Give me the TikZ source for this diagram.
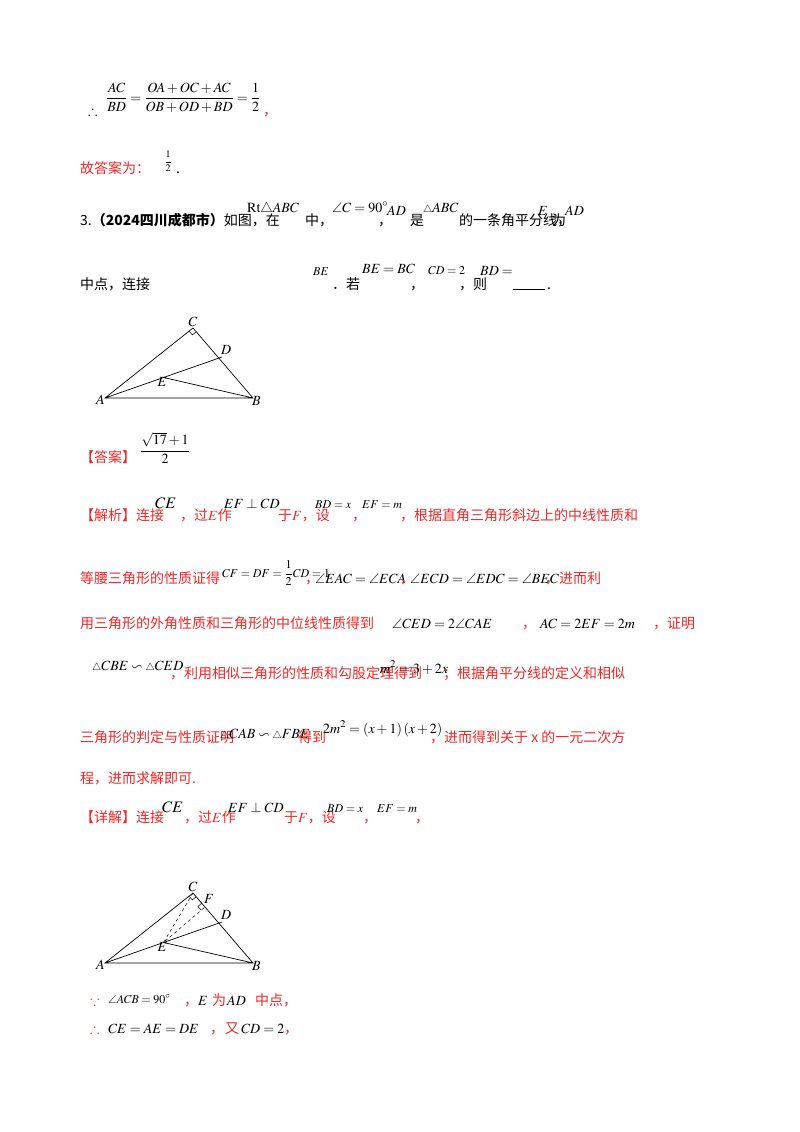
\documentclass[tikz,border=0pt]{standalone}
\usepackage{amsmath,amssymb}
\usepackage{mathptmx}
\usepackage{graphicx}
\usepackage{fontspec}
\setmainfont{Noto Sans CJK SC}
\usetikzlibrary{calc}
\definecolor{myred}{RGB}{238,40,40}
\newcommand{\Ma}[1]{$#1$}
\newcommand{\Mb}[1]{{\fontsize{12}{14}\selectfont$#1$}}
\newcommand{\Mc}[1]{{\fontsize{16}{18}\selectfont$#1$}}
\tikzset{t/.style={anchor=base west,inner sep=0,font=\fontsize{14}{16}\selectfont},
 r/.style={t,text=myred},
 m/.style={t},
 lab/.style={inner sep=1pt,font=\fontsize{14}{16}\selectfont},
 geo/.style={line width=0.7pt}}
\begin{document}
\begin{tikzpicture}[x=1pt,y=-1pt]
\useasboundingbox[fill=white] (0,0) rectangle (800,1132);
% top
\node[t] (th) at (88,115) {\Ma{\therefore}};
\node[anchor=west,inner sep=0,font=\fontsize{14}{16}\selectfont] (f1) at (106,98) {\Ma{\dfrac{AC}{BD}=\dfrac{OA+OC+AC}{OB+OD+BD}=\dfrac{1}{2}}};
\node[r] (c1) at (263,115) {，};
\node[r] (g) at (80,173) {故答案为：};
\node[inner sep=0,font=\fontsize{10}{11}\selectfont] (h) at (168,161) {$\dfrac{1}{2}$};
\node[t] (p) at (176,173) {.};
% problem
\node[t] (q1) at (80,225) {3.\textbf{（2024四川成都市）}如图，在};
\node[m] at (247,212) {\Ma{\mathrm{Rt}\triangle ABC}};
\node[t] at (305,225) {中，};
\node[m] at (332,212) {\Ma{\angle C=90^\circ}};
\node[t] at (378,225) {，};
\node[m] at (387,215) {\Ma{AD}};
\node[t] at (410,225) {是};
\node[m] at (423,212) {\Ma{{\scriptstyle\triangle}ABC}};
\node[t] at (459,225) {的一条角平分线，};
\node[m] at (538,215) {\Ma{E}};
\node[t] at (552,225) {为};
\node[m] at (565,215) {\Ma{AD}};
\node[t] at (80,289) {中点，连接};
\node[m] at (313,275) {\Mb{BE}};
\node[t] at (332,289) {．若};
\node[m] at (362,273) {\Ma{BE=BC}};
\node[t] at (410,289) {，};
\node[m] at (428,274) {\Mb{CD=2}};
\node[t] at (459,289) {，则};
\node[m] at (480,275) {\Ma{BD=}};
\draw[line width=0.5pt] (513,289) -- (545,289);
\node[t] at (547,289) {.};
% figure 1
\coordinate (A) at (105,398); \coordinate (C) at (193,328); \coordinate (B) at (253,398);
\coordinate (D) at (222,357); \coordinate (E) at ($(A)!0.5!(D)$);
\draw[geo] (A)--(C)--(B)--cycle (A)--(D) (E)--(B);
\draw[line width=0.5pt] ($(C)!5pt!(A)$) -- ($(C)!5pt!(A)+(C)!5pt!(B)-(C)$) -- ($(C)!5pt!(B)$);
\node[lab,anchor=south] at (C) {\Ma{C}};
\node[lab,anchor=south west] at ($(D)+(-2,-1)$) {\Ma{D}};
\node[lab,anchor=north] at ($(E)+(-1,-1)$) {\Ma{E}};
\node[lab,anchor=east] at ($(A)+(1,2)$) {\Ma{A}};
\node[lab,anchor=west] at ($(B)+(-2,3)$) {\Ma{B}};
% answer
\node[r] at (80,462) {【答案】};
\node[inner sep=0,font=\fontsize{14}{16}\selectfont] at (165,448) {\Ma{\dfrac{\sqrt{17}+1}{2}}};
% analysis
\node[r] at (80,520) {【解析】连接};
\node[m] at (155,508) {\Mc{CE}};
\node[r] at (180,520) {，过\Ma{E}作};
\node[m] at (224,508) {\Ma{EF\perp CD}};
\node[r] at (278,520) {于\Ma{F}，设};
\node[m] at (315,508) {\Mb{BD=x}};
\node[r] at (352,520) {，};
\node[m] at (362,508) {\Mb{EF=m}};
\node[r] at (400,520) {，根据直角三角形斜边上的中线性质和};
\node[r] at (80,583) {等腰三角形的性质证得};
\node[m] at (222,577) {\Mb{CF=DF=\dfrac{1}{2}CD=1}};
\node[r] at (305,583) {，};
\node[m] at (315,583) {\Ma{\angle EAC=\angle ECA}};
\node[r] at (400,583) {，};
\node[m] at (410,583) {\Ma{\angle ECD=\angle EDC=\angle BEC}};
\node[r] at (545,583) {，进而利};
\node[r] at (80,628) {用三角形的外角性质和三角形的中位线性质得到};
\node[m] at (392,628) {\Ma{\angle CED=2\angle CAE}};
\node[r] at (522,628) {，};
\node[m] at (540,628) {\Ma{AC=2EF=2m}};
\node[r] at (653,628) {，证明};
\node[m] at (92,670) {\Ma{{\scriptstyle\triangle}CBE\backsim{\scriptstyle\triangle}CED}};
\node[r] at (170,678) {，利用相似三角形的性质和勾股定理得到};
\node[m] at (380,673) {\Ma{m^2=3+2x}};
\node[r] at (443,678) {；根据角平分线的定义和相似};
\node[r] at (80,742) {三角形的判定与性质证明};
\node[m] at (220,738) {\Ma{{\scriptstyle\triangle}CAB\backsim{\scriptstyle\triangle}FBE}};
\node[r] at (298,742) {得到};
\node[m] at (323,733) {\Ma{2m^2=\left(x+1\right)\left(x+2\right)}};
\node[r] at (430,742) {，进而得到关于 x 的一元二次方};
\node[r] at (80,783) {程，进而求解即可.};
\node[r] at (80,822) {【详解】连接};
\node[m] at (162,812) {\Mc{CE}};
\node[r] at (184,822) {，过\Ma{E}作};
\node[m] at (228,812) {\Ma{EF\perp CD}};
\node[r] at (284,822) {于\Ma{F}，设};
\node[m] at (327,812) {\Mb{BD=x}};
\node[r] at (363,822) {，};
\node[m] at (377,812) {\Mb{EF=m}};
\node[r] at (415,822) {，};
% figure 2
\coordinate (A2) at (105,963); \coordinate (C2) at (193,893); \coordinate (B2) at (253,963);
\coordinate (D2) at (222,922); \coordinate (E2) at ($(A2)!0.5!(D2)$);
\coordinate (F2) at ($(C2)!(E2)!(B2)$);
\draw[geo] (A2)--(C2)--(B2)--cycle (A2)--(D2) (E2)--(B2);
\draw[geo,dashed,line width=0.5pt] (C2)--(E2)--(F2);
\draw[line width=0.5pt] ($(C2)!5pt!(A2)$) -- ($(C2)!5pt!(A2)+(C2)!5pt!(B2)-(C2)$) -- ($(C2)!5pt!(B2)$);
\draw[line width=0.5pt] ($(F2)!5pt!(E2)$) -- ($(F2)!5pt!(E2)+(F2)!5pt!(C2)-(F2)$) -- ($(F2)!5pt!(C2)$);
\node[lab,anchor=south] at (C2) {\Ma{C}};
\node[lab,anchor=south west] at ($(F2)+(-2,-2)$) {\Ma{F}};
\node[lab,anchor=south west] at ($(D2)+(-2,-1)$) {\Ma{D}};
\node[lab,anchor=north] at ($(E2)+(-1,-1)$) {\Ma{E}};
\node[lab,anchor=east] at ($(A2)+(1,2)$) {\Ma{A}};
\node[lab,anchor=west] at ($(B2)+(-2,3)$) {\Ma{B}};
% last lines
\node[r] at (90,1005) {\Ma{\because}};
\node[m] at (108,1003) {\Mb{\angle ACB=90^\circ}};
\node[r] at (184,1005) {，};
\node[t] at (198,1005) {\Ma{E}};
\node[r] at (212,1005) {为};
\node[t] at (227,1005) {\Ma{AD}};
\node[r] at (255,1005) {中点，};
\node[r] at (90,1033) {\Ma{\therefore}};
\node[t] at (108,1033) {\Ma{CE=AE=DE}};
\node[r] at (210,1033) {，};
\node[r] at (225,1033) {又};
\node[t] at (241,1033) {\Ma{CD=2}};
\node[r] at (284,1033) {，};
\end{tikzpicture}
\end{document}
